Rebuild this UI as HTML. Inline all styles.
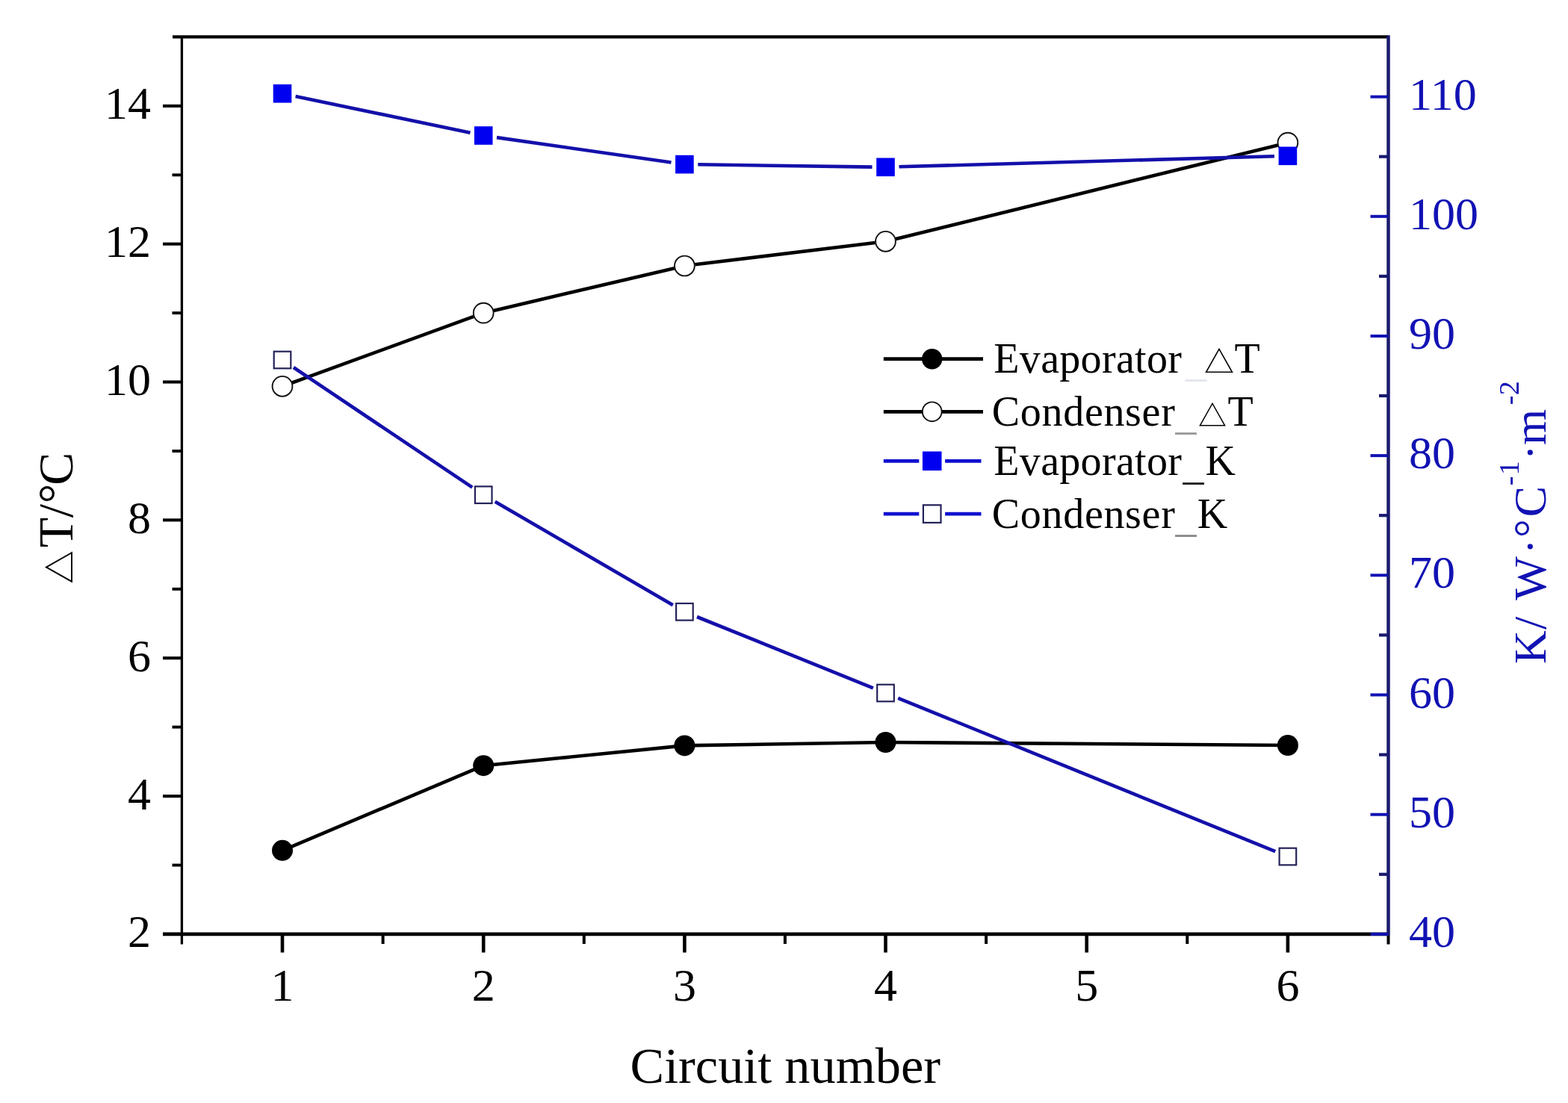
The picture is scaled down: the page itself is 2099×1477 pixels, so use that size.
<!DOCTYPE html><html><head><meta charset="utf-8"><style>html,body{margin:0;padding:0;background:#fff;}svg{display:block}text{font-family:"Liberation Serif",serif;}</style></head><body><svg width="2099" height="1477" viewBox="0 0 2099 1477"><rect width="2099" height="1477" fill="#fff"/><line x1="378.0" y1="1138.8" x2="647.2" y2="1025.2" stroke="#000" stroke-width="4.6"/><line x1="647.2" y1="1025.2" x2="916.4" y2="998.4" stroke="#000" stroke-width="4.6"/><line x1="916.4" y1="998.4" x2="1185.5" y2="994.0" stroke="#000" stroke-width="4.6"/><line x1="1185.5" y1="994.0" x2="1723.9" y2="998.0" stroke="#000" stroke-width="4.6"/><circle cx="378.0" cy="1138.8" r="14" fill="#000"/><circle cx="647.2" cy="1025.2" r="14" fill="#000"/><circle cx="916.4" cy="998.4" r="14" fill="#000"/><circle cx="1185.5" cy="994.0" r="14" fill="#000"/><circle cx="1723.9" cy="998.0" r="14" fill="#000"/><line x1="391.1" y1="512.5" x2="634.0" y2="423.9" stroke="#000" stroke-width="4.6"/><line x1="660.8" y1="415.9" x2="902.7" y2="359.2" stroke="#000" stroke-width="4.6"/><line x1="930.2" y1="354.3" x2="1171.6" y2="325.0" stroke="#000" stroke-width="4.6"/><line x1="1199.1" y1="320.0" x2="1710.3" y2="194.4" stroke="#000" stroke-width="4.6"/><circle cx="378.0" cy="517.3" r="13.4" fill="#fff" stroke="#111" stroke-width="1.9"/><circle cx="647.2" cy="419.1" r="13.4" fill="#fff" stroke="#111" stroke-width="1.9"/><circle cx="916.4" cy="356.0" r="13.4" fill="#fff" stroke="#111" stroke-width="1.9"/><circle cx="1185.5" cy="323.3" r="13.4" fill="#fff" stroke="#111" stroke-width="1.9"/><circle cx="1723.9" cy="191.1" r="13.4" fill="#fff" stroke="#111" stroke-width="1.9"/><line x1="395.6" y1="129.0" x2="629.5" y2="177.8" stroke="#1410aa" stroke-width="4.6"/><line x1="665.0" y1="184.1" x2="898.5" y2="217.5" stroke="#1410aa" stroke-width="4.6"/><line x1="934.3" y1="220.3" x2="1167.5" y2="223.6" stroke="#1410aa" stroke-width="4.6"/><line x1="1203.5" y1="223.3" x2="1705.9" y2="209.3" stroke="#1410aa" stroke-width="4.6"/><rect x="365.7" y="113.0" width="24.6" height="24.6" fill="#0000f0"/><rect x="634.9" y="169.2" width="24.6" height="24.6" fill="#0000f0"/><rect x="904.1" y="207.8" width="24.6" height="24.6" fill="#0000f0"/><rect x="1173.2" y="211.5" width="24.6" height="24.6" fill="#0000f0"/><rect x="1711.6" y="196.5" width="24.6" height="24.6" fill="#0000f0"/><line x1="392.9" y1="492.0" x2="632.2" y2="652.7" stroke="#1410aa" stroke-width="4.6"/><line x1="662.7" y1="671.8" x2="900.8" y2="810.2" stroke="#1410aa" stroke-width="4.6"/><line x1="933.0" y1="826.0" x2="1168.8" y2="921.3" stroke="#1410aa" stroke-width="4.6"/><line x1="1202.2" y1="934.8" x2="1707.2" y2="1140.2" stroke="#1410aa" stroke-width="4.6"/><rect x="366.7" y="470.7" width="22.6" height="22.6" fill="#fff" stroke="#25235a" stroke-width="2.2"/><rect x="635.9" y="651.4" width="22.6" height="22.6" fill="#fff" stroke="#25235a" stroke-width="2.2"/><rect x="905.1" y="808.0" width="22.6" height="22.6" fill="#fff" stroke="#25235a" stroke-width="2.2"/><rect x="1174.2" y="916.7" width="22.6" height="22.6" fill="#fff" stroke="#25235a" stroke-width="2.2"/><rect x="1712.6" y="1135.7" width="22.6" height="22.6" fill="#fff" stroke="#25235a" stroke-width="2.2"/><line x1="231" y1="49.4" x2="1858.5" y2="49.4" stroke="#000" stroke-width="4.4"/><line x1="243.4" y1="49" x2="243.4" y2="1264.5" stroke="#000" stroke-width="3.3"/><line x1="218" y1="1250.9" x2="1858.5" y2="1250.9" stroke="#000" stroke-width="4.8"/><line x1="218" y1="1250.9" x2="243.4" y2="1250.9" stroke="#000" stroke-width="4.1"/><line x1="230.5" y1="1158.5" x2="243.4" y2="1158.5" stroke="#000" stroke-width="3.9"/><line x1="218" y1="1066.1" x2="243.4" y2="1066.1" stroke="#000" stroke-width="4.1"/><line x1="230.5" y1="973.6" x2="243.4" y2="973.6" stroke="#000" stroke-width="3.9"/><line x1="218" y1="881.2" x2="243.4" y2="881.2" stroke="#000" stroke-width="4.1"/><line x1="230.5" y1="788.8" x2="243.4" y2="788.8" stroke="#000" stroke-width="3.9"/><line x1="218" y1="696.4" x2="243.4" y2="696.4" stroke="#000" stroke-width="4.1"/><line x1="230.5" y1="604.0" x2="243.4" y2="604.0" stroke="#000" stroke-width="3.9"/><line x1="218" y1="511.5" x2="243.4" y2="511.5" stroke="#000" stroke-width="4.1"/><line x1="230.5" y1="419.1" x2="243.4" y2="419.1" stroke="#000" stroke-width="3.9"/><line x1="218" y1="326.7" x2="243.4" y2="326.7" stroke="#000" stroke-width="4.1"/><line x1="230.5" y1="234.3" x2="243.4" y2="234.3" stroke="#000" stroke-width="3.9"/><line x1="218" y1="141.9" x2="243.4" y2="141.9" stroke="#000" stroke-width="4.1"/><line x1="378.0" y1="1250.9" x2="378.0" y2="1275.5" stroke="#000" stroke-width="4.6"/><line x1="512.6" y1="1250.9" x2="512.6" y2="1264" stroke="#000" stroke-width="4"/><line x1="647.2" y1="1250.9" x2="647.2" y2="1275.5" stroke="#000" stroke-width="4.6"/><line x1="781.8" y1="1250.9" x2="781.8" y2="1264" stroke="#000" stroke-width="4"/><line x1="916.4" y1="1250.9" x2="916.4" y2="1275.5" stroke="#000" stroke-width="4.6"/><line x1="1050.9" y1="1250.9" x2="1050.9" y2="1264" stroke="#000" stroke-width="4"/><line x1="1185.5" y1="1250.9" x2="1185.5" y2="1275.5" stroke="#000" stroke-width="4.6"/><line x1="1320.1" y1="1250.9" x2="1320.1" y2="1264" stroke="#000" stroke-width="4"/><line x1="1454.7" y1="1250.9" x2="1454.7" y2="1275.5" stroke="#000" stroke-width="4.6"/><line x1="1589.3" y1="1250.9" x2="1589.3" y2="1264" stroke="#000" stroke-width="4"/><line x1="1723.9" y1="1250.9" x2="1723.9" y2="1275.5" stroke="#000" stroke-width="4.6"/><line x1="1858.5" y1="47.3" x2="1858.5" y2="1253" stroke="#1a1a70" stroke-width="4.5"/><line x1="1858.5" y1="1253" x2="1858.5" y2="1264.5" stroke="#000" stroke-width="4"/><line x1="1834.5" y1="1250.9" x2="1858" y2="1250.9" stroke="#1212b4" stroke-width="4"/><line x1="1846" y1="1170.8" x2="1858" y2="1170.8" stroke="#1a1a70" stroke-width="4.2"/><line x1="1834.5" y1="1090.7" x2="1858" y2="1090.7" stroke="#1212b4" stroke-width="4"/><line x1="1846" y1="1010.6" x2="1858" y2="1010.6" stroke="#1a1a70" stroke-width="4.2"/><line x1="1834.5" y1="930.5" x2="1858" y2="930.5" stroke="#1212b4" stroke-width="4"/><line x1="1846" y1="850.4" x2="1858" y2="850.4" stroke="#1a1a70" stroke-width="4.2"/><line x1="1834.5" y1="770.3" x2="1858" y2="770.3" stroke="#1212b4" stroke-width="4"/><line x1="1846" y1="690.2" x2="1858" y2="690.2" stroke="#1a1a70" stroke-width="4.2"/><line x1="1834.5" y1="610.1" x2="1858" y2="610.1" stroke="#1212b4" stroke-width="4"/><line x1="1846" y1="530.0" x2="1858" y2="530.0" stroke="#1a1a70" stroke-width="4.2"/><line x1="1834.5" y1="450.0" x2="1858" y2="450.0" stroke="#1212b4" stroke-width="4"/><line x1="1846" y1="369.9" x2="1858" y2="369.9" stroke="#1a1a70" stroke-width="4.2"/><line x1="1834.5" y1="289.8" x2="1858" y2="289.8" stroke="#1212b4" stroke-width="4"/><line x1="1846" y1="209.7" x2="1858" y2="209.7" stroke="#1a1a70" stroke-width="4.2"/><line x1="1834.5" y1="129.6" x2="1858" y2="129.6" stroke="#1212b4" stroke-width="4"/><text x="202" y="1268.4" font-size="62" text-anchor="end" fill="#000">2</text><text x="202" y="1083.6" font-size="62" text-anchor="end" fill="#000">4</text><text x="202" y="898.7" font-size="62" text-anchor="end" fill="#000">6</text><text x="202" y="713.9" font-size="62" text-anchor="end" fill="#000">8</text><text x="202" y="529.0" font-size="62" text-anchor="end" fill="#000">10</text><text x="202" y="344.2" font-size="62" text-anchor="end" fill="#000">12</text><text x="202" y="159.4" font-size="62" text-anchor="end" fill="#000">14</text><text x="378.0" y="1340" font-size="62" text-anchor="middle" fill="#000">1</text><text x="647.2" y="1340" font-size="62" text-anchor="middle" fill="#000">2</text><text x="916.4" y="1340" font-size="62" text-anchor="middle" fill="#000">3</text><text x="1185.5" y="1340" font-size="62" text-anchor="middle" fill="#000">4</text><text x="1454.7" y="1340" font-size="62" text-anchor="middle" fill="#000">5</text><text x="1723.9" y="1340" font-size="62" text-anchor="middle" fill="#000">6</text><text x="1886" y="1267.9" font-size="62" fill="#1212b4">40</text><text x="1886" y="1107.7" font-size="62" fill="#1212b4">50</text><text x="1886" y="947.5" font-size="62" fill="#1212b4">60</text><text x="1886" y="787.3" font-size="62" fill="#1212b4">70</text><text x="1886" y="627.1" font-size="62" fill="#1212b4">80</text><text x="1886" y="467.0" font-size="62" fill="#1212b4">90</text><text x="1886" y="306.8" font-size="62" fill="#1212b4">100</text><text x="1886" y="146.6" font-size="62" fill="#1212b4">110</text><text x="843.6" y="1449.7" font-size="68.3" fill="#000">Circuit number</text><text transform="translate(96.6,780.4) rotate(-90)" font-size="66" fill="#000"><tspan x="-1.3" font-size="44.7" font-family="Noto Sans CJK SC" font-weight="700">△</tspan><tspan x="47.2 87.1 106.2 130.7">T/°C</tspan></text><text transform="translate(2068.5,887.3) rotate(-90)" font-size="62" fill="#1212b4" x="-1.8 44.4 70 83.5 145 167.3 195.1">K/ W·°C<tspan font-size="38" dy="-36" x="237 251">-1</tspan><tspan dy="36" x="271.1 291.4">·m</tspan><tspan font-size="38" dy="-36" x="345.1 358">-2</tspan></text><line x1="1182.8" y1="480.7" x2="1316" y2="480.7" stroke="#000" stroke-width="4.8"/><circle cx="1247.7" cy="480.7" r="13.7" fill="#000"/><text y="499.4" font-size="56" fill="#000"><tspan x="1330.3" textLength="251.6">Evaporator</tspan><tspan x="1587.0" dy="5" fill="#e4e6ee">_</tspan><tspan x="1612.1" dy="-5" font-size="40" font-family="Noto Sans CJK SC" font-weight="500">△</tspan><tspan x="1652.6">T</tspan></text><line x1="1182.8" y1="551.3" x2="1316" y2="551.3" stroke="#000" stroke-width="4.8"/><circle cx="1247.7" cy="551.3" r="12.9" fill="#fff" stroke="#111" stroke-width="1.9"/><text y="569.8" font-size="56" fill="#000"><tspan x="1327.8" textLength="245.0">Condenser</tspan><tspan x="1573.5" dy="5" fill="#9a9a9a">_</tspan><tspan x="1604.0" dy="-5" font-size="38" font-family="Noto Sans CJK SC" font-weight="500">△</tspan><tspan x="1643.4">T</tspan></text><line x1="1182.8" y1="617.3" x2="1230.3" y2="617.3" stroke="#1010d0" stroke-width="4.8"/><line x1="1265.1" y1="617.3" x2="1313.5" y2="617.3" stroke="#1010d0" stroke-width="4.8"/><rect x="1234.9" y="604.5" width="25.6" height="25.6" fill="#0000f0"/><text y="635.6" font-size="56" fill="#000"><tspan x="1330.3" textLength="251.6">Evaporator</tspan><tspan x="1583.5" dy="6.5" fill="#202020">_</tspan><tspan x="1613.5" dy="-6.5">K</tspan></text><line x1="1182.8" y1="688.1" x2="1230.3" y2="688.1" stroke="#1010d0" stroke-width="4.8"/><line x1="1265.1" y1="688.1" x2="1313.5" y2="688.1" stroke="#1010d0" stroke-width="4.8"/><rect x="1235.9" y="676.3000000000001" width="23.6" height="23.6" fill="#fff" stroke="#25235a" stroke-width="2.2"/><text y="706.5" font-size="56" fill="#000"><tspan x="1327.8" textLength="245.0">Condenser</tspan><tspan x="1573.5" dy="5" fill="#8a8a8a">_</tspan><tspan x="1602.7" dy="-5">K</tspan></text></svg></body></html>
